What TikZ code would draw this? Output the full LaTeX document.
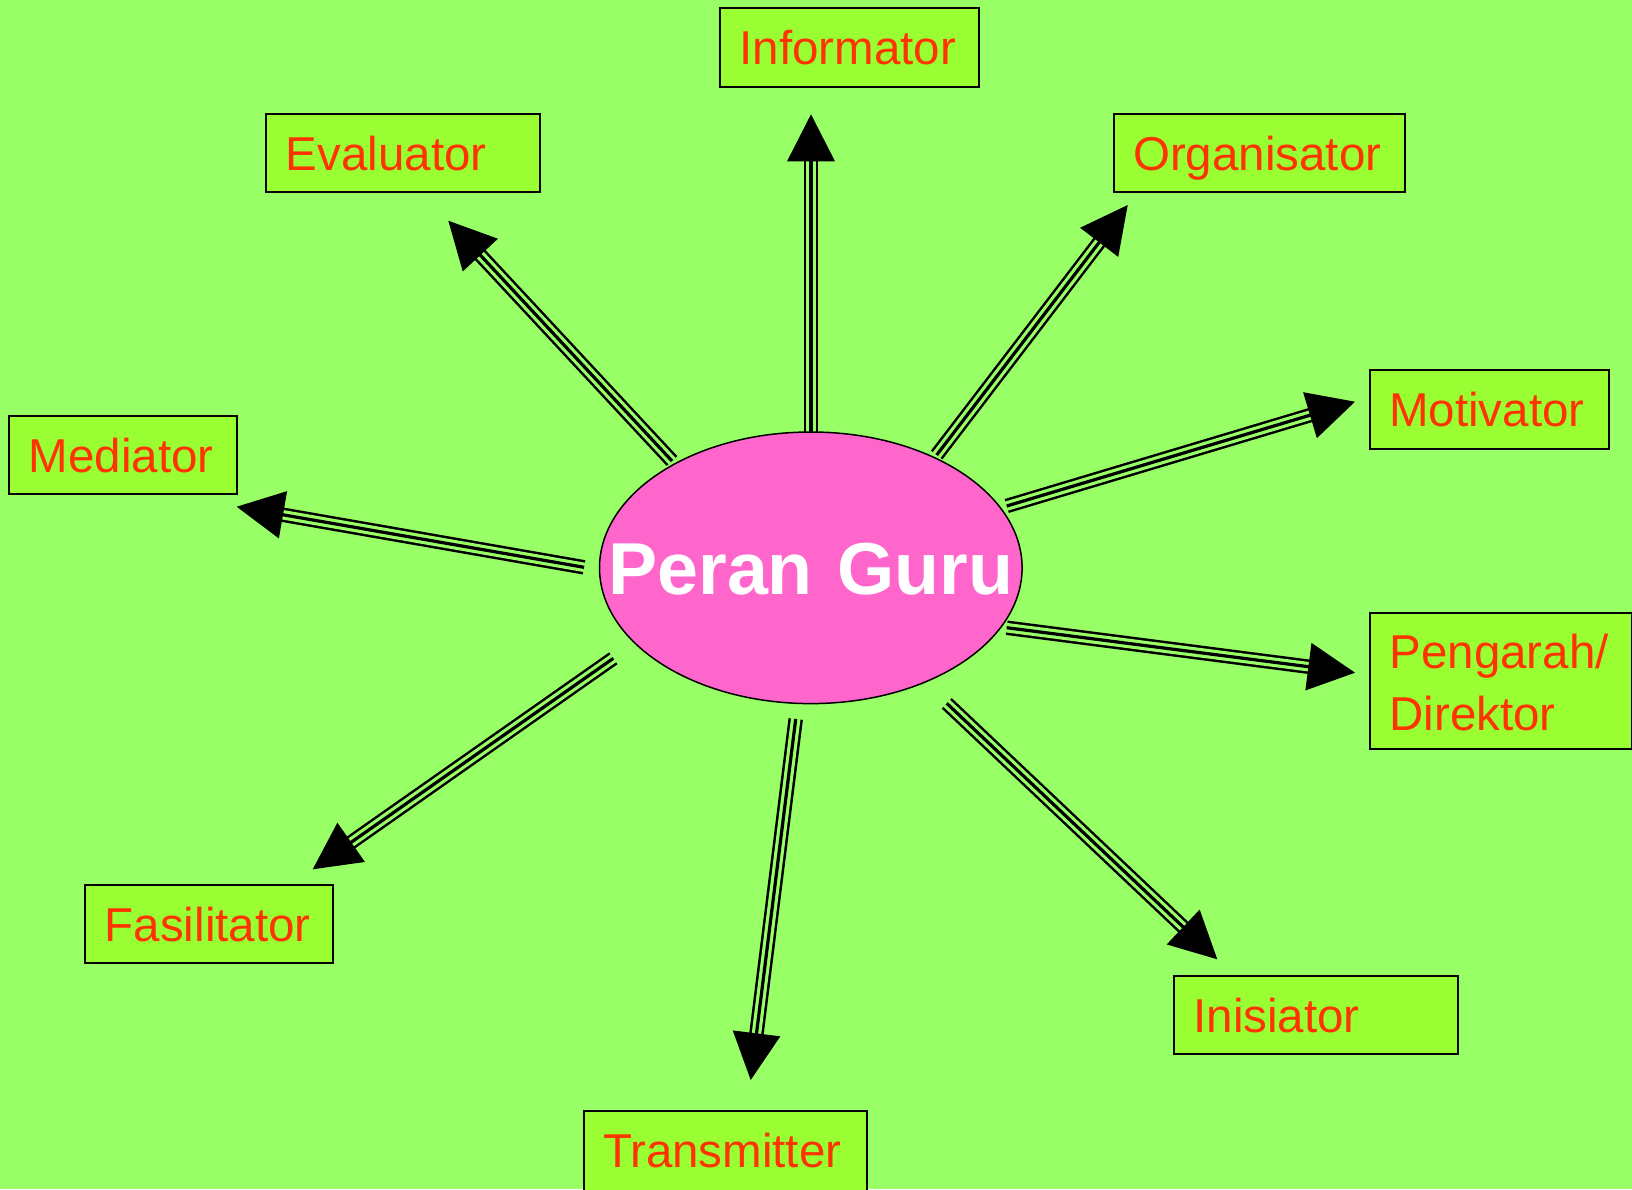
\documentclass[tikz,border=0pt]{standalone}
\usepackage{fontspec}
\setmainfont{Liberation Sans}
\usetikzlibrary{calc,shapes.geometric}
\definecolor{bgc}{HTML}{99FF66}
\definecolor{boxc}{HTML}{99FF33}
\definecolor{txtc}{HTML}{FF3300}
\definecolor{ellc}{HTML}{FF66CC}
\newcommand\peranarrow[2]{%
  \draw[line width=14.5pt, shorten >=44pt] (#1) -- (#2);
  \draw[line width=9.5pt, draw=bgc, shorten >=43pt, shorten <=-0.4pt] (#1) -- (#2);
  \draw[line width=3.2pt, shorten >=44pt] (#1) -- (#2);
  \coordinate (#2base) at ($(#2)!47pt!(#1)$);
  \fill (#2) -- ($(#2base)!24pt!90:(#2)$) -- ($(#2base)!24pt!-90:(#2)$) -- cycle;
}
\begin{document}
\begin{tikzpicture}[x=1pt,y=-1pt,
  rolebase/.style={draw=black, line width=2pt, fill=boxc, anchor=north west,
    inner xsep=19.5pt, inner ysep=0pt, align=left, text=txtc,
    font=\fontsize{47.5}{62}\selectfont},
  rolebox/.style={rolebase, text height=34.8pt, text depth=0pt},
  hub/.style={ellipse, draw=black, line width=1.5pt, fill=ellc, inner sep=0pt,
    text=white, font=\fontsize{73.6}{80}\selectfont\bfseries,
    text height=0pt, text depth=0pt, text width=0pt}]
\fill[bgc] (0,0) rectangle (1632,1189);
\useasboundingbox (0,0) rectangle (1632,1189);

% role boxes
\node[rolebox, minimum width=259.4pt, minimum height=79.1pt, text width=220.4pt] (inf) at (719,7) {Informator};
\node[rolebox, minimum width=273.8pt, minimum height=78pt, text width=234.8pt] (eva) at (265.4,113) {Evaluator};
\node[rolebox, minimum width=291.4pt, minimum height=78pt, text width=252.4pt] (org) at (1112.7,113) {Organisator};
\node[rolebox, minimum width=239.4pt, minimum height=79.1pt, text width=200.4pt] (mot) at (1368.7,369) {Motivator};
\node[rolebox, minimum width=227.9pt, minimum height=78.1pt, text width=188.9pt] (med) at (8.4,414.8) {Mediator};
\node[rolebase, minimum width=262pt, minimum height=136pt, text width=223pt, text height=38.8pt] (dir) at (1369,611.8) {Pengarah/\\Direktor};
\node[rolebox, minimum width=247.7pt, minimum height=78.1pt, text width=208.7pt] (fas) at (84.3,884.2) {Fasilitator};
\node[rolebox, minimum width=284.2pt, minimum height=78pt, text width=245.2pt] (ini) at (1173,974.8) {Inisiator};
\node[rolebox, minimum width=283.8pt, minimum height=82pt, text width=244.8pt, text height=30.8pt] (tra) at (582.5,1110.2) {Transmitter};

% arrow end points
\coordinate (s1) at (811,432);     \coordinate (t1) at (811,114.3);
\coordinate (s2) at (672,461);     \coordinate (t2) at (448.3,220.7);
\coordinate (s3) at (936.7,455);   \coordinate (t3) at (1127.7,205);
\coordinate (s4) at (1006.7,506);  \coordinate (t4) at (1355,401.7);
\coordinate (s5) at (584,567.3);   \coordinate (t5) at (236.7,506.7);
\coordinate (s6) at (1006.7,627.7);\coordinate (t6) at (1355,672.7);
\coordinate (s7) at (613.3,658.3); \coordinate (t7) at (312.7,869.3);
\coordinate (s8) at (795.7,719);   \coordinate (t8) at (750.7,1080);
\coordinate (s9) at (946.7,703.3); \coordinate (t9) at (1217.3,959.3);

\peranarrow{s1}{t1}
\peranarrow{s2}{t2}
\peranarrow{s3}{t3}
\peranarrow{s4}{t4}
\peranarrow{s5}{t5}
\peranarrow{s6}{t6}
\peranarrow{s7}{t7}
\peranarrow{s8}{t8}
\peranarrow{s9}{t9}

% central ellipse
\node[hub, minimum width=422.6pt, minimum height=271.6pt] (guru) at (810.8,567.8)
  {\raisebox{-26.35pt}[0pt][0pt]{\makebox[0pt]{Peran Guru}}};
\end{tikzpicture}
\end{document}
